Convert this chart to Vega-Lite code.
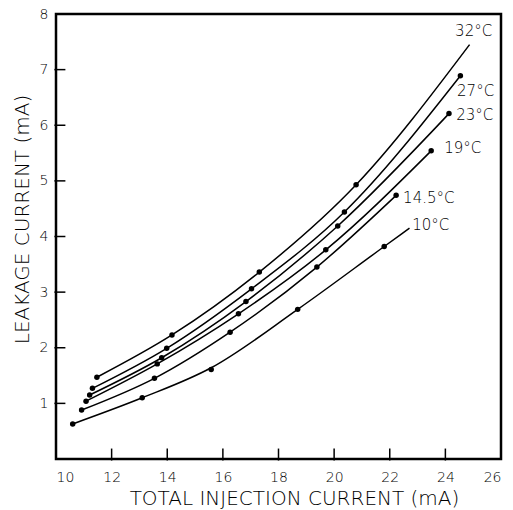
{
  "$schema": "https://vega.github.io/schema/vega-lite/v6.json",
  "width": 445,
  "height": 445,
  "autosize": {"type": "none"},
  "padding": {"left": 56, "top": 14, "right": 12, "bottom": 51},
  "background": "white",
  "config": {
    "view": {"stroke": "black", "strokeWidth": 2.5},
    "font": "DejaVu Sans",
    "axis": {
      "domain": false,
      "grid": false,
      "ticks": false,
      "labelColor": "black",
      "titleColor": "black",
      "labelFont": "DejaVu Sans",
      "titleFont": "DejaVu Sans",
      "labelFontWeight": 200,
      "titleFontWeight": 200,
      "labelFontSize": 14,
      "titleFontSize": 20
    }
  },
  "datasets": {
    "lines": [
      {"series": "10", "current": 10.60, "leak": 0.63},
      {"series": "10", "current": 13.10, "leak": 1.10},
      {"series": "10", "current": 15.58, "leak": 1.64},
      {"series": "10", "current": 18.69, "leak": 2.69},
      {"series": "10", "current": 21.80, "leak": 3.82},
      {"series": "10", "current": 22.71, "leak": 4.15},
      {"series": "14.5", "current": 10.92, "leak": 0.88},
      {"series": "14.5", "current": 13.54, "leak": 1.45},
      {"series": "14.5", "current": 16.26, "leak": 2.28},
      {"series": "14.5", "current": 19.38, "leak": 3.45},
      {"series": "14.5", "current": 22.23, "leak": 4.74},
      {"series": "19", "current": 11.08, "leak": 1.04},
      {"series": "19", "current": 13.64, "leak": 1.71},
      {"series": "19", "current": 16.56, "leak": 2.61},
      {"series": "19", "current": 19.70, "leak": 3.76},
      {"series": "19", "current": 23.49, "leak": 5.54},
      {"series": "23", "current": 11.21, "leak": 1.15},
      {"series": "23", "current": 13.80, "leak": 1.82},
      {"series": "23", "current": 16.83, "leak": 2.83},
      {"series": "23", "current": 20.13, "leak": 4.19},
      {"series": "23", "current": 24.13, "leak": 6.21},
      {"series": "27", "current": 11.31, "leak": 1.27},
      {"series": "27", "current": 13.98, "leak": 1.99},
      {"series": "27", "current": 17.03, "leak": 3.06},
      {"series": "27", "current": 20.37, "leak": 4.44},
      {"series": "27", "current": 24.54, "leak": 6.89},
      {"series": "32", "current": 11.47, "leak": 1.47},
      {"series": "32", "current": 14.17, "leak": 2.23},
      {"series": "32", "current": 17.31, "leak": 3.36},
      {"series": "32", "current": 20.79, "leak": 4.93},
      {"series": "32", "current": 24.87, "leak": 7.45}
    ],
    "dots": [
      {"series": "10", "current": 10.60, "leak": 0.63},
      {"series": "10", "current": 13.10, "leak": 1.10},
      {"series": "10", "current": 15.58, "leak": 1.61},
      {"series": "10", "current": 18.69, "leak": 2.69},
      {"series": "10", "current": 21.80, "leak": 3.82},
      {"series": "14.5", "current": 10.92, "leak": 0.88},
      {"series": "14.5", "current": 13.54, "leak": 1.45},
      {"series": "14.5", "current": 16.26, "leak": 2.28},
      {"series": "14.5", "current": 19.38, "leak": 3.45},
      {"series": "14.5", "current": 22.23, "leak": 4.74},
      {"series": "19", "current": 11.08, "leak": 1.04},
      {"series": "19", "current": 13.64, "leak": 1.71},
      {"series": "19", "current": 16.56, "leak": 2.61},
      {"series": "19", "current": 19.70, "leak": 3.76},
      {"series": "19", "current": 23.49, "leak": 5.54},
      {"series": "23", "current": 11.21, "leak": 1.15},
      {"series": "23", "current": 13.80, "leak": 1.82},
      {"series": "23", "current": 16.83, "leak": 2.83},
      {"series": "23", "current": 20.13, "leak": 4.19},
      {"series": "23", "current": 24.13, "leak": 6.21},
      {"series": "27", "current": 11.31, "leak": 1.27},
      {"series": "27", "current": 13.98, "leak": 1.99},
      {"series": "27", "current": 17.03, "leak": 3.06},
      {"series": "27", "current": 20.37, "leak": 4.44},
      {"series": "27", "current": 24.54, "leak": 6.89},
      {"series": "32", "current": 11.47, "leak": 1.47},
      {"series": "32", "current": 14.17, "leak": 2.23},
      {"series": "32", "current": 17.31, "leak": 3.36},
      {"series": "32", "current": 20.79, "leak": 4.93}
    ],
    "labels": [
      {"label": "32°C", "current": 24.35, "leak": 7.69},
      {"label": "27°C", "current": 24.42, "leak": 6.62},
      {"label": "23°C", "current": 24.39, "leak": 6.18},
      {"label": "19°C", "current": 23.96, "leak": 5.60},
      {"label": "14.5°C", "current": 22.48, "leak": 4.69},
      {"label": "10°C", "current": 22.81, "leak": 4.21}
    ],
    "xticks": [
      {"current": 12}, {"current": 14}, {"current": 16}, {"current": 18},
      {"current": 20}, {"current": 22}, {"current": 24}
    ],
    "yticks": [
      {"leak": 1}, {"leak": 2}, {"leak": 3}, {"leak": 4},
      {"leak": 5}, {"leak": 6}, {"leak": 7}
    ]
  },
  "layer": [
    {
      "data": {"name": "lines"},
      "mark": {"type": "line", "interpolate": "monotone", "color": "black", "strokeWidth": 1.5},
      "encoding": {
        "x": {
          "field": "current", "type": "quantitative",
          "scale": {"domain": [10, 26], "nice": false, "zero": false},
          "axis": {
            "title": "TOTAL INJECTION CURRENT (mA)",
            "values": [10, 12, 14, 16, 18, 20, 22, 24, 26],
            "format": "d",
            "labelPadding": 11,
            "titleX": 238,
            "titleY": 45,
            "titleAlign": "center",
            "titleBaseline": "alphabetic"
          }
        },
        "y": {
          "field": "leak", "type": "quantitative",
          "scale": {"domain": [0, 8], "nice": false},
          "axis": {
            "title": "LEAKAGE CURRENT (mA)",
            "values": [1, 2, 3, 4, 5, 6, 7, 8],
            "format": "d",
            "labelPadding": 8,
            "titleX": -28,
            "titleY": 205,
            "titleAlign": "center",
            "titleBaseline": "alphabetic"
          }
        },
        "detail": {"field": "series"}
      }
    },
    {
      "data": {"name": "xticks"},
      "mark": {"type": "tick", "orient": "vertical", "color": "black", "size": 12, "thickness": 1.5, "opacity": 1},
      "encoding": {
        "x": {"field": "current", "type": "quantitative"},
        "y": {"datum": 0.08}
      }
    },
    {
      "data": {"name": "yticks"},
      "mark": {"type": "tick", "orient": "horizontal", "color": "black", "size": 11, "thickness": 1.5, "opacity": 1},
      "encoding": {
        "y": {"field": "leak", "type": "quantitative"},
        "x": {"datum": 10.14}
      }
    },
    {
      "data": {"name": "dots"},
      "mark": {"type": "point", "filled": true, "color": "black", "size": 30, "opacity": 1},
      "encoding": {
        "x": {"field": "current", "type": "quantitative"},
        "y": {"field": "leak", "type": "quantitative"}
      }
    },
    {
      "data": {"name": "labels"},
      "mark": {"type": "text", "align": "left", "baseline": "middle", "fontSize": 15, "fontWeight": 200, "color": "black", "font": "DejaVu Sans"},
      "encoding": {
        "x": {"field": "current", "type": "quantitative"},
        "y": {"field": "leak", "type": "quantitative"},
        "text": {"field": "label"}
      }
    }
  ]
}
